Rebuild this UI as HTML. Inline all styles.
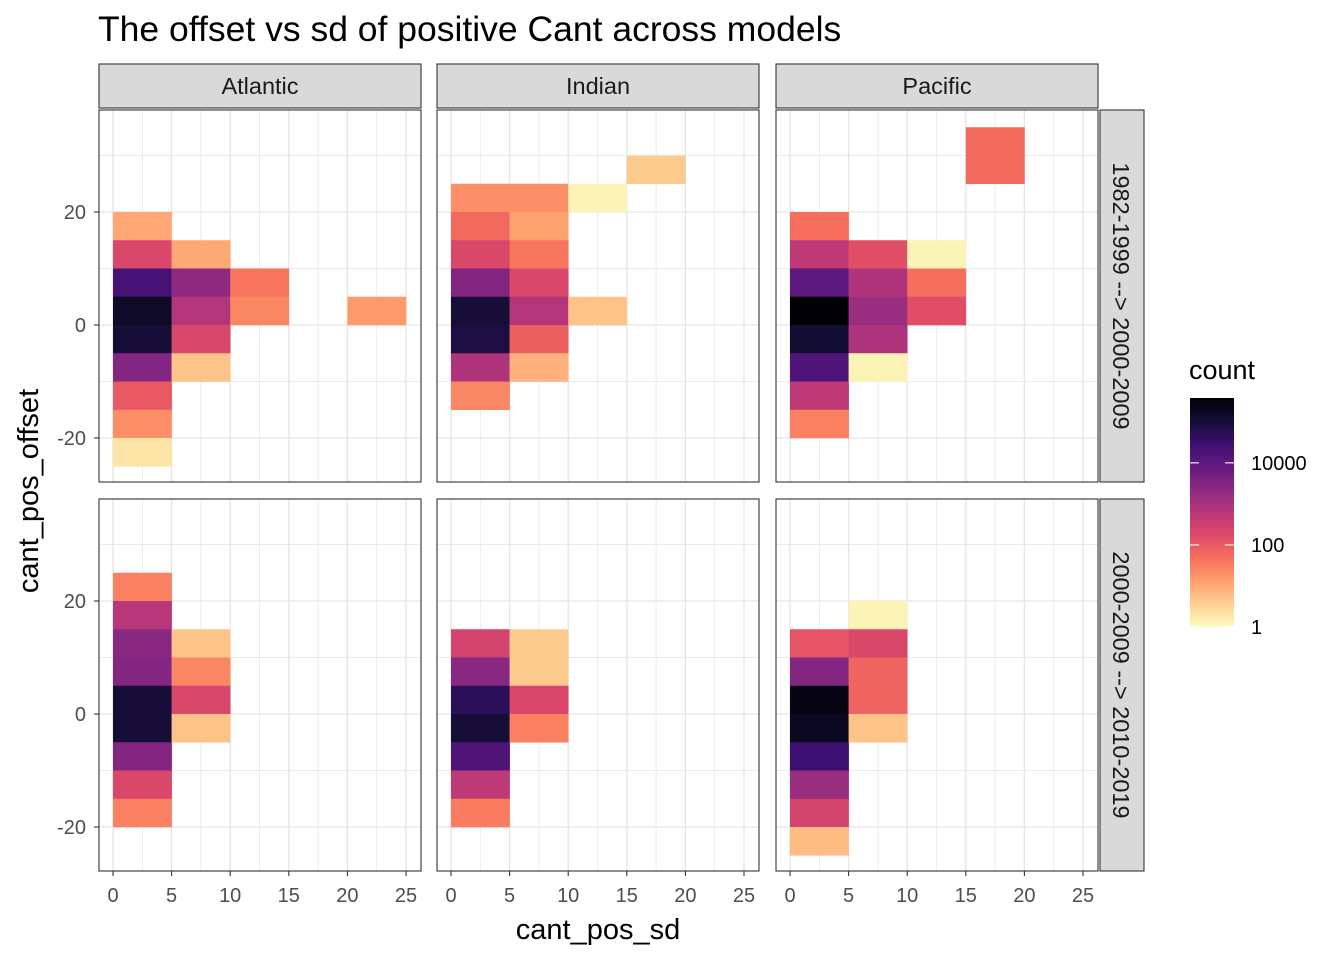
<!DOCTYPE html>
<html><head><meta charset="utf-8"><style>
body{margin:0;background:#fff;}
svg text{font-family:"Liberation Sans",sans-serif;}
</style></head><body>
<svg id="chart" width="1344" height="960" xmlns="http://www.w3.org/2000/svg">
<text x="98" y="41" font-size="35.5" fill="#000">The offset vs sd of positive Cant across models</text>
<text x="598" y="939" font-size="29" text-anchor="middle">cant_pos_sd</text>
<text transform="translate(38,491) rotate(-90)" font-size="29" text-anchor="middle">cant_pos_offset</text>
<g id="panels"></g>
<g id="legend"></g>
</svg>
<script>
const panelNames = ["Atlantic","Indian","Pacific"];
const rowNames = ["1982-1999 --> 2000-2009","2000-2009 --> 2010-2019"];
const xTicks = [0,5,10,15,20,25];
const yTicks = [-20,0,20];
const legendTicks = [1,100,10000];
const cellRow   = [];
const cellPanel = [];
const cellX     = [];
const cellY     = [];
const cellCount = [];
const cells = [
 [0,0,0,15,10],[0,0,0,10,200],[0,0,0,5,20000],[0,0,0,0,150000],[0,0,0,-5,100000],[0,0,0,-10,3000],[0,0,0,-15,100],[0,0,0,-20,20],[0,0,0,-25,2],
 [0,0,5,10,10],[0,0,5,5,2000],[0,0,5,0,700],[0,0,5,-5,200],[0,0,5,-10,5],
 [0,0,10,5,40],[0,0,10,0,25],[0,0,20,0,15],
 [0,1,0,20,20],[0,1,0,15,60],[0,1,0,10,200],[0,1,0,5,3000],[0,1,0,0,100000],[0,1,0,-5,80000],[0,1,0,-10,800],[0,1,0,-15,25],
 [0,1,5,20,20],[0,1,5,15,12],[0,1,5,10,40],[0,1,5,5,200],[0,1,5,0,700],[0,1,5,-5,80],[0,1,5,-10,8],
 [0,1,10,20,1.3],[0,1,10,0,5],[0,1,15,25,4],
 [0,2,0,15,50],[0,2,0,10,500],[0,2,0,5,10000],[0,2,0,0,380000],[0,2,0,-5,120000],[0,2,0,-10,15000],[0,2,0,-15,500],[0,2,0,-20,30],
 [0,2,5,10,150],[0,2,5,5,800],[0,2,5,0,1500],[0,2,5,-5,800],[0,2,5,-10,1.3],
 [0,2,10,10,1.3],[0,2,10,5,50],[0,2,10,0,150],
 [0,2,15,30,60],[0,2,15,25,60],
 [1,0,0,20,30],[1,0,0,15,600],[1,0,0,10,2500],[1,0,0,5,3000],[1,0,0,0,100000],[1,0,0,-5,100000],[1,0,0,-10,3000],[1,0,0,-15,200],[1,0,0,-20,30],
 [1,0,5,10,5],[1,0,5,5,25],[1,0,5,0,200],[1,0,5,-5,5],
 [1,1,0,10,250],[1,1,0,5,2500],[1,1,0,0,50000],[1,1,0,-5,100000],[1,1,0,-10,15000],[1,1,0,-15,500],[1,1,0,-20,35],
 [1,1,5,10,4],[1,1,5,5,4],[1,1,5,0,200],[1,1,5,-5,30],
 [1,2,0,10,120],[1,2,0,5,3000],[1,2,0,0,250000],[1,2,0,-5,180000],[1,2,0,-10,30000],[1,2,0,-15,1500],[1,2,0,-20,250],[1,2,0,-25,6],
 [1,2,5,15,1.3],[1,2,5,10,200],[1,2,5,5,70],[1,2,5,0,70],[1,2,5,-5,5]
];
cells.forEach(c=>{cellRow.push(c[0]);cellPanel.push(c[1]);cellX.push(c[2]);cellY.push(c[3]);cellCount.push(c[4]);});
const binW = 5, binH = 5, maxLog = 5.58;

const NS="http://www.w3.org/2000/svg";
function mk(tag,attrs,parent){const e=document.createElementNS(NS,tag);for(const k in attrs)e.setAttribute(k,attrs[k]);parent.appendChild(e);return e;}
const magma=["#000004","#140e36","#3b0f70","#641a80","#8c2981","#b73779","#de4968","#f7705c","#fe9f6d","#fecf92","#fcfdbf"];
function hex(h){return [1,3,5].map(i=>parseInt(h.substr(i,2),16));}
function magmaAt(t){t=Math.max(0,Math.min(1,t));const p=t*10,i=Math.min(9,Math.floor(p)),f=p-i;const a=hex(magma[i]),b=hex(magma[i+1]);return "rgb("+a.map((v,k)=>Math.round(v+(b[k]-v)*f)).join(",")+")";}
function colorFor(n){return magmaAt(1-Math.log10(n)/maxLog);}

const panelX0=[99,437,776], panelW=322;
const rowY0=[110,499], panelH=372;
const xScale=(p,v)=>panelX0[p]+14+v*11.72;
const yZero=[325,714];
const yScale=(r,v)=>yZero[r]-v*5.65;

const g=document.getElementById('panels');
for(let r=0;r<2;r++)for(let p=0;p<3;p++){
  const pg=mk('g',{},g);
  
  
  mk('rect',{x:panelX0[p],y:rowY0[r],width:panelW,height:panelH,fill:'#fff'},pg);
  for(let v=-2.5;v<=27.5;v+=2.5){const x=xScale(p,v);if(x<panelX0[p]||x>panelX0[p]+panelW)continue;
    mk('line',{x1:x,x2:x,y1:rowY0[r],y2:rowY0[r]+panelH,stroke:'#E5E5E5','stroke-width':(v%5===0)?1.3:0.7},pg);}
  for(let v=-30;v<=40;v+=10){const y=yScale(r,v);if(y<rowY0[r]||y>rowY0[r]+panelH)continue;
    mk('line',{x1:panelX0[p],x2:panelX0[p]+panelW,y1:y,y2:y,stroke:'#E5E5E5','stroke-width':(v%20===0)?1.3:0.7},pg);}
  for(let i=0;i<cellCount.length;i++){
    if(cellRow[i]!==r||cellPanel[i]!==p)continue;
    const x1=xScale(p,cellX[i]),x2=xScale(p,cellX[i]+binW),y1=yScale(r,cellY[i]+binH),y2=yScale(r,cellY[i]);
    const rc=mk('rect',{x:x1,y:y1,width:x2-x1+0.3,height:y2-y1+0.3,fill:colorFor(cellCount[i])},pg);
    
    
  }
  mk('rect',{x:panelX0[p],y:rowY0[r],width:panelW,height:panelH,fill:'none',stroke:'#333','stroke-width':1.1},pg);
  if(p===0){yTicks.forEach(v=>{const y=yScale(r,v);
    mk('line',{x1:panelX0[0]-5,x2:panelX0[0],y1:y,y2:y,stroke:'#333','stroke-width':1.1},pg);
    const t=mk('text',{x:panelX0[0]-13,y:y+7,'font-size':20,fill:'#4D4D4D','text-anchor':'end'},pg);t.textContent=v;
    
    });}
  if(r===1){xTicks.forEach(v=>{const x=xScale(p,v);
    mk('line',{x1:x,x2:x,y1:rowY0[1]+panelH,y2:rowY0[1]+panelH+5,stroke:'#333','stroke-width':1.1},pg);
    const t=mk('text',{x:x,y:902,'font-size':20,fill:'#4D4D4D','text-anchor':'middle'},pg);t.textContent=v;
    
    });}
  if(r===0){const s=mk('g',{},g);
    
    
    mk('rect',{x:panelX0[p],y:64,width:panelW,height:44,fill:'#D9D9D9',stroke:'#333','stroke-width':1.1},s);
    const t=mk('text',{x:panelX0[p]+panelW/2,y:94,'font-size':23.5,fill:'#1A1A1A','text-anchor':'middle'},s);t.textContent=panelNames[p];}
  if(p===2){const s=mk('g',{},g);
    
    
    mk('rect',{x:1100,y:rowY0[r],width:44,height:panelH,fill:'#D9D9D9',stroke:'#333','stroke-width':1.1},s);
    const t=mk('text',{transform:'translate(1113,'+(rowY0[r]+panelH/2)+') rotate(90)','font-size':23.5,fill:'#1A1A1A','text-anchor':'middle'},s);t.textContent=rowNames[r];}
}
const L=document.getElementById('legend');

const lt=mk('text',{x:1189,y:379,'font-size':27},L);lt.textContent='count';
const defs=mk('defs',{},L);
const lg=mk('linearGradient',{id:'lg',x1:0,y1:1,x2:0,y2:0},defs);
for(let i=0;i<=20;i++){mk('stop',{offset:i/20,'stop-color':magmaAt(1-i/20)},lg);}
const legTop=398,legBot=627;
mk('rect',{x:1190,y:legTop,width:44,height:legBot-legTop,fill:'url(#lg)'},L);
legendTicks.forEach(v=>{const y=legBot-Math.log10(v)/maxLog*(legBot-legTop);
  mk('line',{x1:1190,x2:1199,y1:y,y2:y,stroke:'#fff','stroke-width':1.1},L);
  mk('line',{x1:1225,x2:1234,y1:y,y2:y,stroke:'#fff','stroke-width':1.1},L);
  const t=mk('text',{x:1251,y:y+7,'font-size':20,fill:'#000'},L);t.textContent=v;
  
  });
</script>
</body></html>
